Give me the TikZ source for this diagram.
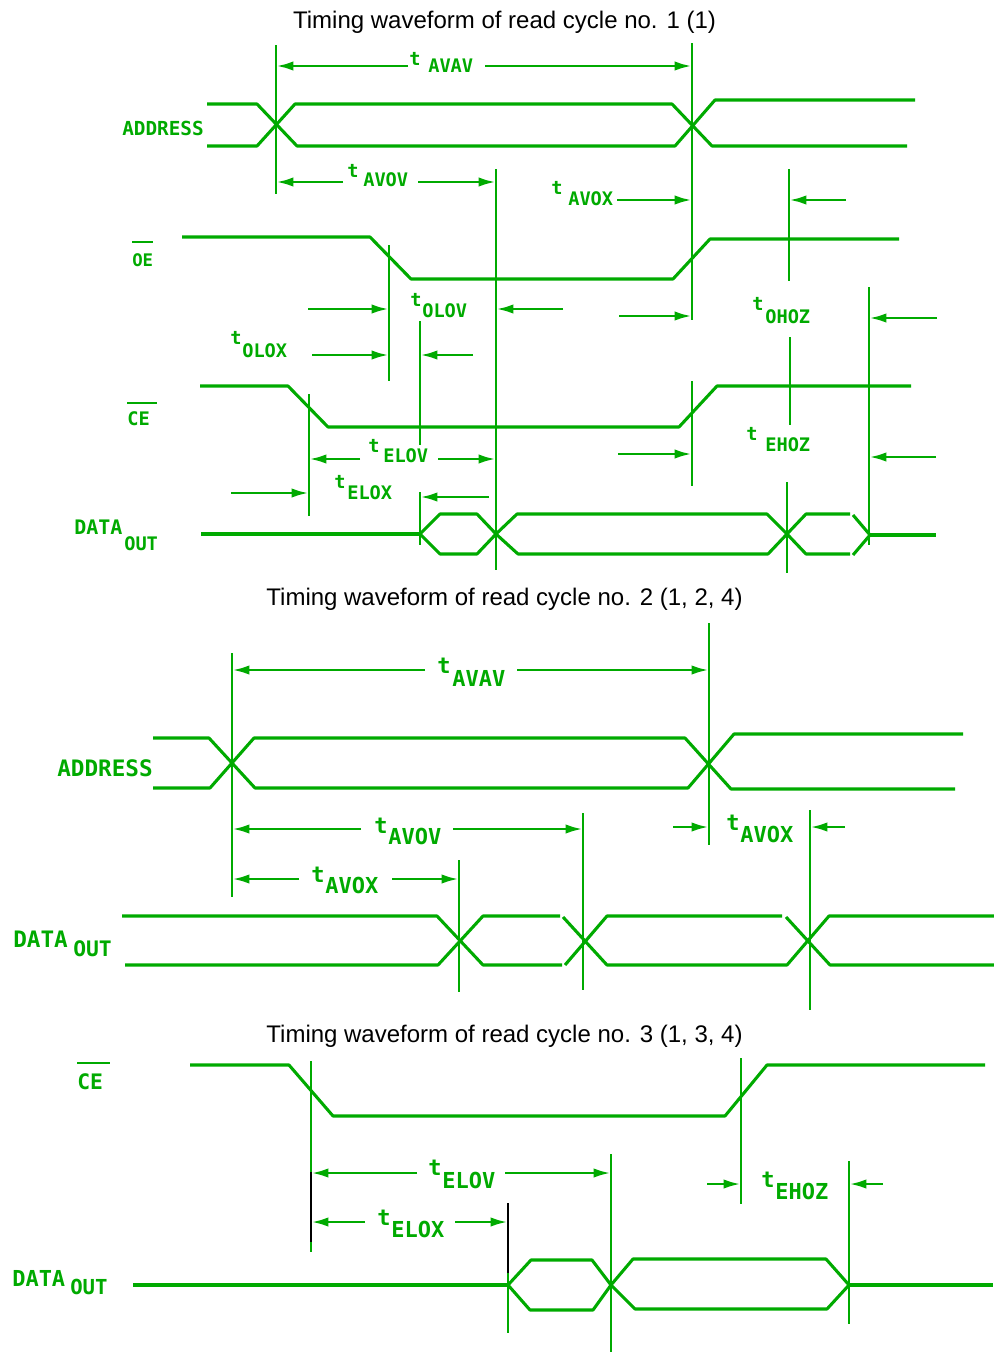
\documentclass[tikz,border=0pt]{standalone}
\usepackage{fontspec}
\setmainfont{Liberation Sans}
\newfontfamily\plotfont{DejaVu Sans Mono}
\usetikzlibrary{arrows.meta}
\definecolor{wg}{RGB}{0,170,0}
\begin{document}
\begin{tikzpicture}[x=0.75pt,y=-0.75pt,
  wave/.style={draw=wg, line width=2.3pt, line join=round},
  dimline/.style={draw=wg, line width=2.2pt},
  blk/.style={draw=black, line width=2.2pt},
  arr/.style={draw=wg, line width=2.2pt, -{Latex[length=13pt,width=7pt]}},
  ovl/.style={draw=wg, line width=1.6pt},
  lab/.style={text=wg, inner sep=0pt, anchor=base west, font=\plotfont\bfseries\fontsize{#1}{#1}\selectfont},
  ttl/.style={text=black, inner sep=0pt, anchor=base, font=\fontsize{18pt}{20pt}\selectfont}]
\useasboundingbox (0,0) rectangle (994,1353);

% ---------------- titles
\node[ttl] (T1) at (504.5,28) {Timing waveform of read cycle no. 1 (1)};
\node[ttl] (T2) at (504.5,605) {Timing waveform of read cycle no. 2 (1, 2, 4)};
\node[ttl] (T3) at (504.5,1042) {Timing waveform of read cycle no. 3 (1, 3, 4)};

% ================= DIAGRAM 1
\node[lab=14.5pt] (adr1) at (122,135) {ADDRESS};
\node[lab=13pt] (oe1) at (132,266) {OE};
\draw[ovl] (132,242) -- (153,242);
\node[lab=14pt] (ce1) at (127,425) {CE};
\draw[ovl] (127,403) -- (157,403);
\node[lab=15pt] (dat1) at (74,534) {DATA};
\node[lab=14pt] (out1) at (124,550) {OUT};

\draw[wave] (207,104) -- (257,104) -- (297,146) -- (675,146) -- (715,100) -- (915,100);
\draw[wave] (207,146) -- (257,146) -- (295,104) -- (672,104) -- (712,146) -- (907,146);
\draw[wave] (182,237) -- (370,237) -- (411,279) -- (673,279) -- (710,239) -- (899,239);
\draw[wave] (200,386) -- (288,386) -- (328,427) -- (679,427) -- (717,386) -- (911,386);
\draw[wave] (201,534) -- (420,534);
\draw[wave] (420,534) -- (440,514) -- (477,514) -- (496,534) -- (477,554) -- (440,554) -- cycle;
\draw[wave] (496,534) -- (517,514) -- (767,514) -- (787,534) -- (768,554) -- (518,554) -- cycle;
\draw[wave] (787,534) -- (806,514) -- (850,514);
\draw[wave] (787,534) -- (806,554) -- (850,554);
\draw[wave] (853,515) -- (870,535) -- (853,555);
\draw[wave] (870,535) -- (936,535);

\draw[dimline] (276,45) -- (276,194);
\draw[dimline] (692,43) -- (692,320);
\draw[dimline] (496,169) -- (496,570);
\draw[dimline] (789,169) -- (789,281);
\draw[dimline] (389,245) -- (389,381);
\draw[dimline] (420,321) -- (420,445);
\draw[dimline] (420,492) -- (420,545);
\draw[dimline] (790,337) -- (790,425);
\draw[dimline] (869,287) -- (869,545);
\draw[dimline] (309,394) -- (309,516);
\draw[dimline] (692,381) -- (692,486);
\draw[dimline] (787,482) -- (787,573);

\draw[arr] (408,66) -- (276,66);
\draw[arr] (485,66) -- (692,66);
\draw[arr] (343,182) -- (276,182);
\draw[arr] (418,182) -- (496,182);
\draw[arr] (617,200) -- (692,200);
\draw[arr] (846,200) -- (789,200);
\draw[arr] (308,309) -- (389,309);
\draw[arr] (563,309) -- (496,309);
\draw[arr] (312,355) -- (389,355);
\draw[arr] (473,355) -- (420,355);
\draw[arr] (619,316) -- (692,316);
\draw[arr] (937,318) -- (869,318);
\draw[arr] (360,459) -- (309,459);
\draw[arr] (438,459) -- (496,459);
\draw[arr] (231,493) -- (309,493);
\draw[arr] (489,497) -- (420,497);
\draw[arr] (618,454) -- (692,454);
\draw[arr] (936,457) -- (869,457);

\node[lab=14pt] (t1a) at (409,65) {t};  \node[lab=14pt] (s1a) at (428,72) {AVAV};
\node[lab=14pt] (t1b) at (347,177) {t}; \node[lab=14pt] (s1b) at (363,186) {AVOV};
\node[lab=14pt] (t1c) at (551,194) {t}; \node[lab=14pt] (s1c) at (568,205) {AVOX};
\node[lab=14pt] (t1d) at (410,306) {t}; \node[lab=14pt] (s1d) at (422,317) {OLOV};
\node[lab=14pt] (t1e) at (230,344) {t}; \node[lab=14pt] (s1e) at (242,357) {OLOX};
\node[lab=14pt] (t1f) at (752,310) {t}; \node[lab=14pt] (s1f) at (765,323) {OHOZ};
\node[lab=14pt] (t1g) at (368,452) {t}; \node[lab=14pt] (s1g) at (383,462) {ELOV};
\node[lab=14pt] (t1h) at (334,488) {t}; \node[lab=14pt] (s1h) at (347,499) {ELOX};
\node[lab=14pt] (t1i) at (746,440) {t}; \node[lab=14pt] (s1i) at (765,451) {EHOZ};

% ================= DIAGRAM 2
\node[lab=17pt] (adr2) at (57,776) {ADDRESS};
\node[lab=17pt] (dat2) at (13,947) {DATA};
\node[lab=16pt] (out2) at (73,956) {OUT};

\draw[wave] (153,738) -- (209,738) -- (255,788) -- (688,788) -- (734,734) -- (963,734);
\draw[wave] (153,788) -- (210,788) -- (254,738) -- (685,738) -- (731,789) -- (955,789);

\draw[wave] (122,916) -- (437,916) -- (483,965) -- (562,965);
\draw[wave] (125,965) -- (438,965) -- (483,916) -- (560,916);
\draw[wave] (563,917) -- (607,965) -- (787,965) -- (829,916) -- (994,916);
\draw[wave] (565,965) -- (607,916) -- (782,916);
\draw[wave] (786,917) -- (830,965) -- (994,965);

\draw[dimline] (232,653) -- (232,897);
\draw[dimline] (709,623) -- (709,845);
\draw[dimline] (583,813) -- (583,990);
\draw[dimline] (459,860) -- (459,992);
\draw[dimline] (810,810) -- (810,1010);

\draw[arr] (425,670) -- (232,670);
\draw[arr] (517,670) -- (709,670);
\draw[arr] (361,829) -- (232,829);
\draw[arr] (453,829) -- (583,829);
\draw[arr] (299,879) -- (232,879);
\draw[arr] (392,879) -- (459,879);
\draw[arr] (673,827) -- (709,827);
\draw[arr] (845,827) -- (810,827);

\node[lab=16.5pt] (t2a) at (437,673) {t}; \node[lab=16.5pt] (s2a) at (452,686) {AVAV};
\node[lab=16.5pt] (t2b) at (374,833) {t}; \node[lab=16.5pt] (s2b) at (388,844) {AVOV};
\node[lab=16.5pt] (t2c) at (311,882) {t}; \node[lab=16.5pt] (s2c) at (325,893) {AVOX};
\node[lab=16.5pt] (t2d) at (726,830) {t}; \node[lab=16.5pt] (s2d) at (740,842) {AVOX};

% ================= DIAGRAM 3
\node[lab=16pt] (ce3) at (77,1089) {CE};
\draw[ovl] (77,1063) -- (110,1063);
\node[lab=16.5pt] (dat3) at (12,1286) {DATA};
\node[lab=15.5pt] (out3) at (70,1294) {OUT};

\draw[wave] (190,1065) -- (289,1065) -- (333,1116) -- (725,1116) -- (767,1065) -- (985,1065);
\draw[wave] (133,1285) -- (508,1285);
\draw[wave] (508,1285) -- (531,1260) -- (592,1260) -- (611,1285) -- (593,1310) -- (530,1310) -- cycle;
\draw[wave] (611,1285) -- (633,1259) -- (826,1259) -- (849,1285) -- (827,1309) -- (635,1309) -- cycle;
\draw[wave] (849,1285) -- (993,1285);

\draw[dimline] (311,1061) -- (311,1172);
\draw[blk] (311,1172) -- (311,1242);
\draw[dimline] (311,1242) -- (311,1252);
\draw[dimline] (611,1154) -- (611,1352);
\draw[blk] (508,1203) -- (508,1273);
\draw[dimline] (508,1273) -- (508,1333);
\draw[dimline] (741,1058) -- (741,1204);
\draw[dimline] (849,1161) -- (849,1324);

\draw[arr] (417,1173) -- (311,1173);
\draw[arr] (505,1173) -- (611,1173);
\draw[arr] (365,1222) -- (311,1222);
\draw[arr] (455,1222) -- (508,1222);
\draw[arr] (707,1184) -- (741,1184);
\draw[arr] (883,1184) -- (849,1184);

\node[lab=16.5pt] (t3a) at (428,1175) {t}; \node[lab=16.5pt] (s3a) at (442,1188) {ELOV};
\node[lab=16.5pt] (t3b) at (377,1225) {t}; \node[lab=16.5pt] (s3b) at (391,1237) {ELOX};
\node[lab=16.5pt] (t3c) at (761,1187) {t}; \node[lab=16.5pt] (s3c) at (775,1199) {EHOZ};
\end{tikzpicture}
\end{document}
